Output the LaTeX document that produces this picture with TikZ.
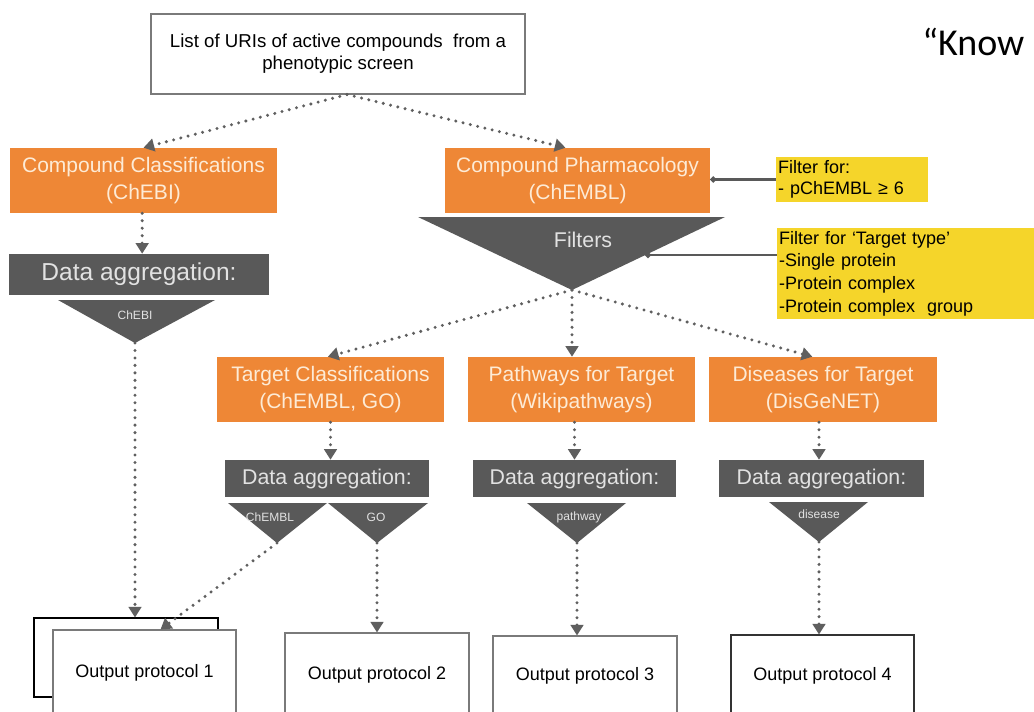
\documentclass[tikz,border=0pt]{standalone}
\usepackage{fontspec}
\setmainfont{Liberation Sans}
\newfontfamily\knowfont{Carlito}
\usetikzlibrary{arrows.meta,calc}
\definecolor{org}{HTML}{EE8736}
\definecolor{dg}{HTML}{595959}
\definecolor{yel}{HTML}{F5D52A}
\definecolor{otxt}{HTML}{FDEBD6}
\definecolor{arr}{HTML}{5F5F5F}
\definecolor{bgray}{HTML}{7A7A7A}
\definecolor{ltxt}{HTML}{E2E2E2}
\begin{document}
\begin{tikzpicture}[x=0.75pt,y=-0.75pt,
  obox/.style={fill=org, text=otxt, align=center, inner sep=0pt, minimum height=48.75pt, font=\fontsize{15.75}{20}\selectfont},
  gbox/.style={fill=dg, text=ltxt, inner sep=0pt},
  wbox/.style={fill=white, draw=bgray, line width=0.8pt, inner sep=0pt, font=\fontsize{13.5}{16}\selectfont},
  ybox/.style={fill=yel, inner xsep=1.5pt, inner ysep=0pt, align=left, font=\fontsize{13.5}{16}\selectfont},
  dotarrow/.style={draw=arr, line width=2.5pt, line cap=round, dash pattern=on 0pt off 5.6pt, -{Triangle[width=9.5pt,length=8pt]}},
  fline/.style={draw=dg, line width=1.6pt, {Circle[length=4.5pt]}-},
  small/.style={text=ltxt, inner sep=0pt, font=\fontsize{9}{10}\selectfont}
]
\useasboundingbox (0,0) rectangle (1034,711);
\clip (0,0) rectangle (1034,711);
\fill[white] (0,0) rectangle (1034,711);

% heading fragment
\node[anchor=west, inner sep=0pt, font=\knowfont\fontsize{28.5}{30}\selectfont] (know) at (922,42) {“Know};

% source box
\node[wbox, minimum width=280.5pt, minimum height=60pt, align=center, font=\fontsize{14}{16.5}\selectfont] (src) at (338,54)
  {List of URIs of active compounds\ \ from a\\ phenotypic screen};

% orange boxes top row
\node[obox, minimum width=200.25pt] (cc) at (143.5,180.5) {Compound Classifications\\(ChEBI)};
\node[obox, minimum width=198.75pt] (cp) at (577.5,180.5) {Compound Pharmacology\\(ChEMBL)};

% filters triangle
\coordinate (fap) at (572,290);
\fill[dg] (418,217) -- (725,217) -- (fap) -- cycle;
\node[text=ltxt, inner sep=0pt, font=\fontsize{16}{18}\selectfont] (filt) at (583,240) {Filters};
\coordinate (ftx) at (645,255);

% yellow notes
\node[ybox, minimum width=114pt, minimum height=33.75pt, text width=111pt, font=\fontsize{13.5}{15.75}\selectfont] (y1) at (852,179.5)
  {Filter for:\\- pChEMBL ≥ 6};
\node[ybox, minimum width=197.25pt, minimum height=68.25pt, text width=194.25pt, font=\fontsize{13.5}{17}\selectfont] (y2) at (908.5,273.5)
  {Filter for ‘Target type’\\-Single protein\\-Protein complex\\-Protein complex\ \ group};

\draw[fline] (y1.west -| cp.east) -- (y1.west);
\draw[fline] (ftx) -- (ftx -| y2.west);

% left data aggregation
\node[gbox, minimum width=195pt, minimum height=30.75pt, font=\fontsize{18.4}{20}\selectfont] (da1) at (139,274.5) {Data aggregation:};
\coordinate (ap1) at (135,343);
\fill[dg] (58,300) -- (215,300) -- (ap1) -- cycle;
\node[small] (lchebi) at (135,315) {ChEBI};

% second row orange
\node[obox, minimum width=170.25pt] (tc) at (330.5,389.5) {Target Classifications\\(ChEMBL, GO)};
\node[obox, minimum width=170.25pt] (pw) at (581.5,389.5) {Pathways for Target\\(Wikipathways)};
\node[obox, minimum width=171pt] (ds) at (823,389.5) {Diseases for Target\\(DisGeNET)};

% second row data aggregation
\node[gbox, minimum width=153pt, minimum height=27.75pt, font=\fontsize{16}{18}\selectfont] (tcda) at (327,478.5) {Data aggregation:};
\node[gbox, minimum width=152.25pt, minimum height=27.75pt, font=\fontsize{16}{18}\selectfont] (pwda) at (574.5,478.5) {Data aggregation:};
\node[gbox, minimum width=153.75pt, minimum height=27.75pt, font=\fontsize{16}{18}\selectfont] (dsda) at (821.5,478.5) {Data aggregation:};

\coordinate (apC) at (277,543);
\coordinate (apG) at (377,543);
\coordinate (apP) at (577,543);
\coordinate (apD) at (819,542);
\fill[dg] (228,503) -- (327,503) -- (apC) -- cycle;
\fill[dg] (328,503) -- (428,503) -- (apG) -- cycle;
\fill[dg] (527,503) -- (626,503) -- (apP) -- cycle;
\fill[dg] (769,502) -- (868,502) -- (apD) -- cycle;
\node[small] (lchembl) at (270,517) {ChEMBL};
\node[small] (lgo) at (376,517) {GO};
\node[small] (lpath) at (579,517) {pathway};
\node[small] (ldis) at (819,514) {disease};

% outputs
\node[wbox, draw=black, minimum width=138pt, minimum height=59.25pt] (o1b) at (126,657.5) {};
\node[wbox, minimum width=137.25pt, minimum height=64.5pt] (o1f) at (144.5,673) {Output protocol 1};
\node[wbox, minimum width=138pt, minimum height=62.25pt] (o2) at (377,674.5) {Output protocol 2};
\node[wbox, minimum width=138pt, minimum height=60pt] (o3) at (585,676) {Output protocol 3};
\node[wbox, draw=black!80, minimum width=137.25pt, minimum height=60.75pt] (o4) at (822.5,675.5) {Output protocol 4};

% connectors
\draw[dotarrow] ([xshift=6.75pt]src.south) -- (cc.north);
\draw[dotarrow] ([xshift=6.75pt]src.south) -- ([xshift=-9pt]cp.north);
\draw[dotarrow] ([xshift=-1pt]cc.south) -- ([xshift=-1pt]cc.south |- da1.north);
\draw[dotarrow] (fap) -- ([xshift=-2pt]tc.north);
\draw[dotarrow] (fap) -- (fap |- pw.north);
\draw[dotarrow] (fap) -- ([xshift=-8pt]ds.north);
\draw[dotarrow] (tc.south) -- (tc.south |- tcda.north);
\draw[dotarrow] (pwda.north |- pw.south) -- (pwda.north);
\draw[dotarrow] ([xshift=-3pt]ds.south) -- ([xshift=-3pt]ds.south |- dsda.north);
\draw[dotarrow] (ap1) -- (ap1 |- o1b.north);
\draw[dotarrow] (apC) -- ([xshift=12pt]o1f.north);
\draw[dotarrow] (apG) -- (apG |- o2.north);
\draw[dotarrow] (apP) -- (apP |- o3.north);
\draw[dotarrow] (apD) -- (apD |- o4.north);
\end{tikzpicture}
\end{document}
